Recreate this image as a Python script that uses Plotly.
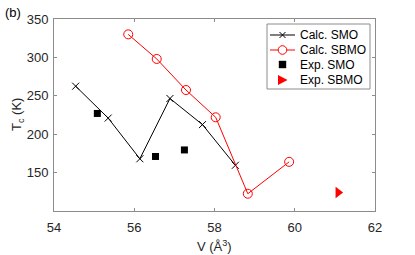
import plotly.graph_objects as go

calc_smo_v = [54.54, 55.35, 56.14, 56.89, 57.70, 58.52]
calc_smo_tc = [262.5, 221, 168, 246.5, 212.5, 159.5]
calc_sbmo_v = [55.85, 56.56, 57.29, 58.03, 58.83, 59.86]
calc_sbmo_tc = [330, 298, 257.5, 222, 122.5, 164]
exp_smo_v = [55.08, 56.53, 57.25]
exp_smo_tc = [227, 171, 179.5]
exp_sbmo_v = [61.08]
exp_sbmo_tc = [124]

x_ticks = [54, 56, 58, 60, 62]
y_ticks = [150, 200, 250, 300, 350]
legend_names = ["Calc. SMO", "Calc. SBMO", "Exp. SMO", "Exp. SBMO"]

FONT = "Liberation Sans, Arial, Helvetica, sans-serif"
TXT = "#262626"
AX = "#8c8c8c"

W, H = 415, 255
L, R, T, B = 54, 40, 19, 44
PW, PH = W - L - R, H - T - B


def px(xp):
    return (xp - L) / PW


def py(yp):
    return (H - B - yp) / PH


fig = go.Figure()
fig.add_trace(go.Scatter(x=calc_smo_v, y=calc_smo_tc, mode="lines+markers", name=legend_names[0],
                         line=dict(color="black", width=1),
                         marker=dict(symbol="x-thin", size=7, line=dict(color="black", width=1))))
fig.add_trace(go.Scatter(x=calc_sbmo_v, y=calc_sbmo_tc, mode="lines+markers", name=legend_names[1],
                         line=dict(color="red", width=1),
                         marker=dict(symbol="circle-open", size=9, color="red", line=dict(color="red", width=1))))
fig.add_trace(go.Scatter(x=exp_smo_v, y=exp_smo_tc, mode="markers", name=legend_names[2],
                         marker=dict(symbol="square", size=7, color="black")))
fig.add_trace(go.Scatter(x=exp_sbmo_v, y=exp_sbmo_tc, mode="markers", name=legend_names[3],
                         marker=dict(symbol="triangle-right", size=10, color="red")))

axis_common = dict(showline=True, linecolor=AX, linewidth=1, mirror="ticks",
                   ticks="inside", ticklen=3, tickcolor=AX, showgrid=False, zeroline=False,
                   automargin=False, tickfont=dict(family=FONT, size=13, color=TXT))

fig.update_xaxes(range=[54, 62], tickvals=x_ticks, ticktext=[str(t) for t in x_ticks],
                 ticklabelstandoff=4, **axis_common)
fig.update_yaxes(range=[100, 350], tickvals=y_ticks, ticktext=[str(t) for t in y_ticks],
                 ticklabelstandoff=2, **axis_common)

# ---- manual legend (MATLAB-style compact box) ----
shapes = []
annotations = []
box_x0, box_x1, box_y0, box_y1 = 267, 370, 24, 89
shapes.append(dict(type="rect", xref="paper", yref="paper",
                   x0=px(box_x0), x1=px(box_x1), y0=py(box_y1), y1=py(box_y0),
                   line=dict(color=AX, width=1), fillcolor="white", layer="above"))
row_y = [35, 50, 64.5, 80]
lx0, lx1, mx = 270, 295, 282.5
text_x = 298
# row 1: black line with x marker
shapes.append(dict(type="line", xref="paper", yref="paper", x0=px(lx0), x1=px(lx1),
                   y0=py(row_y[0]), y1=py(row_y[0]), line=dict(color="black", width=1), layer="above"))
for dx0, dy0, dx1, dy1 in [(-3, -3, 3, 3), (-3, 3, 3, -3)]:
    shapes.append(dict(type="line", xref="paper", yref="paper",
                       x0=px(mx + dx0), x1=px(mx + dx1), y0=py(row_y[0] + dy0), y1=py(row_y[0] + dy1),
                       line=dict(color="black", width=1), layer="above"))
# row 2: red line with open circle
shapes.append(dict(type="line", xref="paper", yref="paper", x0=px(lx0), x1=px(lx1),
                   y0=py(row_y[1]), y1=py(row_y[1]), line=dict(color="red", width=1), layer="above"))
shapes.append(dict(type="circle", xref="paper", yref="paper",
                   x0=px(mx - 4.3), x1=px(mx + 4.3), y0=py(row_y[1] + 4.3), y1=py(row_y[1] - 4.3),
                   line=dict(color="red", width=1), fillcolor="white", layer="above"))
# row 3: black square
shapes.append(dict(type="rect", xref="paper", yref="paper",
                   x0=px(mx - 3.7), x1=px(mx + 3.7), y0=py(row_y[2] + 3.7), y1=py(row_y[2] - 3.7),
                   line=dict(color="black", width=0), fillcolor="black", layer="above"))
# row 4: red right-pointing triangle
tx0, tx1 = mx - 4.5, mx + 5
p = "M {},{} L {},{} L {},{} Z".format(px(tx0), py(row_y[3] - 5), px(tx1), py(row_y[3]),
                                     px(tx0), py(row_y[3] + 5))
shapes.append(dict(type="path", xref="paper", yref="paper", path=p,
                   line=dict(color="red", width=0), fillcolor="red", layer="above"))
for name, ry in zip(legend_names, row_y):
    annotations.append(dict(text=name, xref="paper", yref="paper", x=px(text_x), y=py(ry),
                            xanchor="left", yanchor="middle", showarrow=False,
                            font=dict(family=FONT, size=12, color="black")))

# axis titles and panel label
annotations.append(dict(text="V (Å<sup>3</sup>)", xref="paper", yref="paper", x=0.5, y=py(246),
                        xanchor="center", yanchor="middle", showarrow=False,
                        font=dict(family=FONT, size=13, color=TXT)))
annotations.append(dict(text="T<sub>c</sub> (K)", xref="paper", yref="paper", x=px(17), y=0.5,
                        xanchor="center", yanchor="middle", showarrow=False, textangle=-90,
                        font=dict(family=FONT, size=13, color=TXT)))
annotations.append(dict(text="(b)", xref="paper", yref="paper", x=px(3), y=py(12),
                        xanchor="left", yanchor="middle", showarrow=False,
                        font=dict(family=FONT, size=13, color="black")))

fig.update_layout(
    width=W, height=H,
    margin=dict(l=L, r=R, t=T, b=B),
    plot_bgcolor="white", paper_bgcolor="white",
    showlegend=False,
    shapes=shapes,
    annotations=annotations,
)

fig.write_html("out.html", config={"displayModeBar": False},
               post_script="document.body.style.margin='0';document.body.style.overflow='hidden';")
